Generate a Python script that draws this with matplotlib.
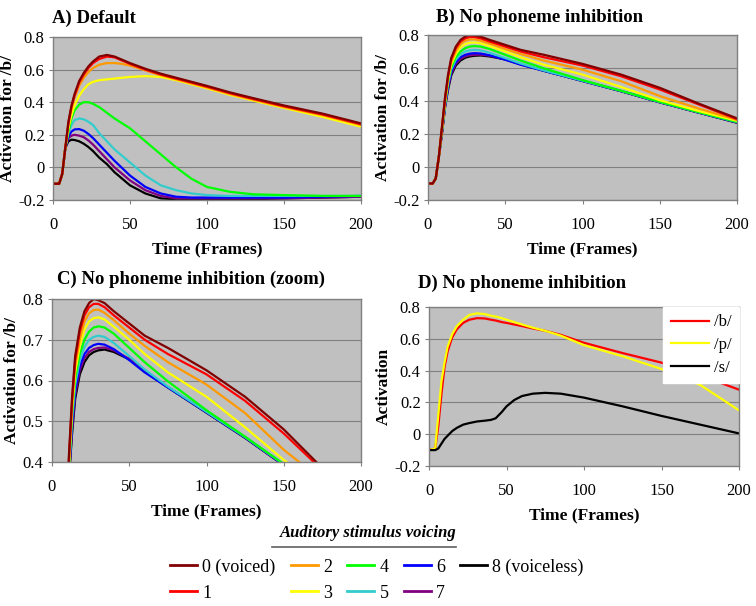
import numpy as np
import matplotlib
matplotlib.use("Agg")
from matplotlib import pyplot as plt
from matplotlib.lines import Line2D
from matplotlib.ticker import FuncFormatter

plt.rcParams['font.family'] = ['Liberation Serif', 'DejaVu Serif']
plt.rcParams['axes.unicode_minus'] = False

# voicing levels 0 (voiced) .. 8 (voiceless)
voicing_labels = ['0 (voiced)', '1', '2', '3', '4', '5', '6', '7', '8 (voiceless)']
voicing_colors = ['#800000', '#FF0000', '#FF9900', '#FFFF00', '#00FF00',
                  '#33CCCC', '#0000FF', '#800080', '#000000']

# A) default model
t_default = [0, 4, 6, 8, 10, 12, 14, 17, 20, 23, 26, 30, 35, 40, 45, 50,
             60, 70, 80, 90, 100, 115, 130, 150, 175, 200]
act_default = [
    [-0.10, -0.10, -0.04, 0.12, 0.28, 0.38, 0.45, 0.53, 0.58, 0.62, 0.65, 0.68, 0.69, 0.68, 0.66, 0.64,
     0.605, 0.575, 0.55, 0.525, 0.50, 0.46, 0.425, 0.38, 0.33, 0.27],
    [-0.10, -0.10, -0.04, 0.12, 0.27, 0.37, 0.44, 0.52, 0.57, 0.61, 0.64, 0.665, 0.68, 0.675, 0.655, 0.635,
     0.60, 0.57, 0.545, 0.52, 0.495, 0.455, 0.42, 0.375, 0.325, 0.265],
    [-0.10, -0.10, -0.04, 0.12, 0.26, 0.36, 0.43, 0.50, 0.55, 0.585, 0.61, 0.63, 0.64, 0.64, 0.635, 0.625,
     0.595, 0.565, 0.54, 0.515, 0.49, 0.45, 0.415, 0.37, 0.32, 0.26],
    [-0.10, -0.10, -0.04, 0.12, 0.24, 0.32, 0.38, 0.44, 0.48, 0.51, 0.525, 0.535, 0.54, 0.545, 0.55, 0.555,
     0.56, 0.555, 0.535, 0.51, 0.485, 0.445, 0.41, 0.365, 0.31, 0.25],
    [-0.10, -0.10, -0.04, 0.12, 0.22, 0.30, 0.35, 0.385, 0.40, 0.40, 0.39, 0.37, 0.335, 0.30, 0.27, 0.24,
     0.16, 0.08, 0.0, -0.07, -0.12, -0.15, -0.165, -0.17, -0.175, -0.175],
    [-0.10, -0.10, -0.04, 0.12, 0.21, 0.26, 0.29, 0.30, 0.295, 0.28, 0.26, 0.21, 0.16, 0.11, 0.07, 0.03,
     -0.05, -0.11, -0.14, -0.16, -0.17, -0.175, -0.175, -0.175, -0.175, -0.175],
    [-0.10, -0.10, -0.04, 0.12, 0.19, 0.22, 0.233, 0.235, 0.225, 0.205, 0.18, 0.14, 0.09, 0.04, -0.005, -0.05,
     -0.12, -0.16, -0.18, -0.185, -0.185, -0.185, -0.185, -0.185, -0.18, -0.175],
    [-0.10, -0.10, -0.04, 0.12, 0.18, 0.195, 0.20, 0.195, 0.185, 0.165, 0.14, 0.10, 0.05, 0.0, -0.04, -0.08,
     -0.14, -0.175, -0.19, -0.19, -0.19, -0.19, -0.19, -0.19, -0.185, -0.18],
    [-0.10, -0.10, -0.04, 0.12, 0.16, 0.17, 0.168, 0.16, 0.145, 0.125, 0.10, 0.06, 0.02, -0.03, -0.07, -0.11,
     -0.16, -0.19, -0.195, -0.195, -0.195, -0.195, -0.195, -0.19, -0.185, -0.18],
]

# B) and C) no phoneme inhibition
t_noinhib = [0, 3, 5, 7, 9, 11, 13, 15, 18, 21, 24, 27, 30, 34, 40, 50, 60, 75, 100, 125, 150, 175, 200]
act_noinhib = [
    [-0.10, -0.10, -0.07, 0.06, 0.24, 0.42, 0.56, 0.66, 0.73, 0.77, 0.79, 0.80, 0.797, 0.79, 0.77, 0.74,
     0.71, 0.68, 0.625, 0.56, 0.48, 0.385, 0.295],
    [-0.10, -0.10, -0.07, 0.06, 0.235, 0.41, 0.55, 0.65, 0.72, 0.76, 0.78, 0.788, 0.788, 0.78, 0.76, 0.73,
     0.70, 0.665, 0.615, 0.55, 0.47, 0.38, 0.29],
    [-0.10, -0.10, -0.07, 0.06, 0.23, 0.40, 0.54, 0.635, 0.70, 0.745, 0.765, 0.773, 0.774, 0.766, 0.748, 0.715,
     0.685, 0.645, 0.59, 0.52, 0.43, 0.355, 0.285],
    [-0.10, -0.10, -0.07, 0.06, 0.225, 0.395, 0.53, 0.62, 0.685, 0.725, 0.745, 0.753, 0.755, 0.75, 0.732, 0.70,
     0.665, 0.62, 0.56, 0.485, 0.405, 0.34, 0.28],
    [-0.10, -0.10, -0.07, 0.06, 0.22, 0.385, 0.52, 0.605, 0.665, 0.70, 0.72, 0.73, 0.733, 0.73, 0.715, 0.68,
     0.645, 0.598, 0.527, 0.462, 0.395, 0.333, 0.274],
    [-0.10, -0.10, -0.07, 0.06, 0.215, 0.375, 0.505, 0.59, 0.65, 0.682, 0.70, 0.707, 0.71, 0.707, 0.692, 0.66,
     0.627, 0.585, 0.523, 0.461, 0.394, 0.332, 0.272],
    [-0.10, -0.10, -0.07, 0.06, 0.21, 0.37, 0.49, 0.575, 0.635, 0.665, 0.68, 0.687, 0.69, 0.688, 0.677, 0.65,
     0.62, 0.583, 0.522, 0.46, 0.393, 0.331, 0.271],
    [-0.10, -0.10, -0.07, 0.06, 0.205, 0.365, 0.48, 0.565, 0.625, 0.655, 0.67, 0.677, 0.68, 0.681, 0.674, 0.653,
     0.622, 0.584, 0.522, 0.46, 0.392, 0.33, 0.27],
    [-0.10, -0.10, -0.07, 0.06, 0.20, 0.36, 0.47, 0.555, 0.615, 0.645, 0.662, 0.67, 0.674, 0.676, 0.67, 0.652,
     0.622, 0.583, 0.521, 0.459, 0.392, 0.33, 0.268],
]

# D) phoneme activations, no inhibition
t_phon = [0, 4, 6, 8, 10, 12, 15, 18, 22, 26, 31, 36, 40, 43, 47, 50, 55, 60, 67, 75, 85,
          100, 125, 150, 175, 200]
act_b = [-0.10, -0.09, 0.05, 0.25, 0.42, 0.52, 0.61, 0.66, 0.70, 0.72, 0.73, 0.728, 0.72, 0.715, 0.705,
         0.70, 0.69, 0.68, 0.665, 0.65, 0.625, 0.575, 0.51, 0.45, 0.37, 0.28]
act_p = [-0.10, -0.09, 0.12, 0.33, 0.45, 0.55, 0.63, 0.68, 0.72, 0.75, 0.76, 0.755, 0.745, 0.74, 0.73,
         0.72, 0.705, 0.69, 0.67, 0.65, 0.62, 0.56, 0.49, 0.41, 0.31, 0.15]
act_s = [-0.10, -0.10, -0.09, -0.06, -0.03, -0.01, 0.02, 0.04, 0.06, 0.07, 0.08, 0.085, 0.09, 0.10, 0.14,
         0.175, 0.215, 0.24, 0.255, 0.26, 0.255, 0.23, 0.175, 0.115, 0.06, 0.005]
phon_labels = ['/b/', '/p/', '/s/']
phon_colors = ['#FF0000', '#FFFF00', '#000000']

W, H = 756, 606
fig = plt.figure(figsize=(W / 100, H / 100), dpi=100)


def px_axes(left, top, right, bottom):
    return fig.add_axes([left / W, 1 - bottom / H, (right - left) / W, (bottom - top) / H])


def style(ax, ylim, ystep, ylabel):
    ax.set_facecolor('#C0C0C0')
    ax.set_xlim(0, 200)
    ax.set_ylim(*ylim)
    ax.set_xticks(np.arange(0, 201, 50))
    ax.set_yticks(np.arange(ylim[0], ylim[1] + 1e-9, ystep))
    ax.yaxis.set_major_formatter(FuncFormatter(lambda v, p: f'{round(v, 2):g}'))
    ax.grid(axis='y', color='#808080', linewidth=0.8)
    ax.set_axisbelow(True)
    for s in ax.spines.values():
        s.set_color('#808080')
        s.set_linewidth(1.0)
    ax.tick_params(axis='both', labelsize=12, length=3, color='#808080')
    ax.tick_params(axis='x', pad=9)
    ax.tick_params(axis='y', pad=3)
    ax.set_xlabel('Time (Frames)', fontsize=12.5, fontweight='bold', labelpad=6)
    ax.set_ylabel(ylabel, fontsize=12.5, fontweight='bold', labelpad=2)


axA = px_axes(53, 37, 361, 200)
axB = px_axes(428, 35, 737, 200)
axC = px_axes(52, 299, 361, 462)
axD = px_axes(429, 307, 739, 466)

style(axA, (-0.2, 0.8), 0.2, 'Activation for /b/')
style(axB, (-0.2, 0.8), 0.2, 'Activation for /b/')
style(axC, (0.4, 0.8), 0.1, 'Activation for /b/')
style(axD, (-0.2, 0.8), 0.2, 'Activation')

# draw voiceless first so voiced curves end up on top
for i in range(8, -1, -1):
    axA.plot(t_default, act_default[i], color=voicing_colors[i], lw=1.6)
    axB.plot(t_noinhib, act_noinhib[i], color=voicing_colors[i], lw=1.6)
    axC.plot(t_noinhib, act_noinhib[i], color=voicing_colors[i], lw=1.6)

for vals, lab, col in zip([act_b, act_p, act_s], phon_labels, phon_colors):
    axD.plot(t_phon, vals, color=col, lw=1.6, label=lab)
axD.legend(loc='upper right', bbox_to_anchor=(1.0, 1.0), borderaxespad=0, frameon=True,
           fancybox=False, framealpha=1, edgecolor='white', fontsize=12, handlelength=2.3,
           handletextpad=0.3, labelspacing=0.4, borderpad=0.45)

fig.text(52 / W, 1 - 18 / H, 'A) Default', fontsize=13.5, fontweight='bold', va='center')
fig.text(436 / W, 1 - 17 / H, 'B) No phoneme inhibition', fontsize=13.5, fontweight='bold', va='center')
fig.text(57 / W, 1 - 279 / H, 'C) No phoneme inhibition (zoom)', fontsize=13.5, fontweight='bold',
         va='center')
fig.text(418 / W, 1 - 283 / H, 'D) No phoneme inhibition', fontsize=13.5, fontweight='bold',
         va='center')

# bottom legend for voicing levels
handles = [Line2D([], [], color=c, lw=2) for c in voicing_colors]
fig.legend(handles, voicing_labels, ncol=5, loc='center',
           bbox_to_anchor=(377 / W, 1 - 580 / H), frameon=False, fontsize=13,
           handlelength=1.5, handletextpad=0.28, columnspacing=0.85, labelspacing=0.5)
fig.text(368 / W, 1 - 533 / H, 'Auditory stimulus voicing', fontsize=12, fontweight='bold',
         fontstyle='italic', ha='center', va='center')
fig.add_artist(Line2D([272 / W, 456 / W], [1 - 547 / H, 1 - 547 / H], color='#606060', lw=1.2))

fig.savefig('out.png', dpi=100)
